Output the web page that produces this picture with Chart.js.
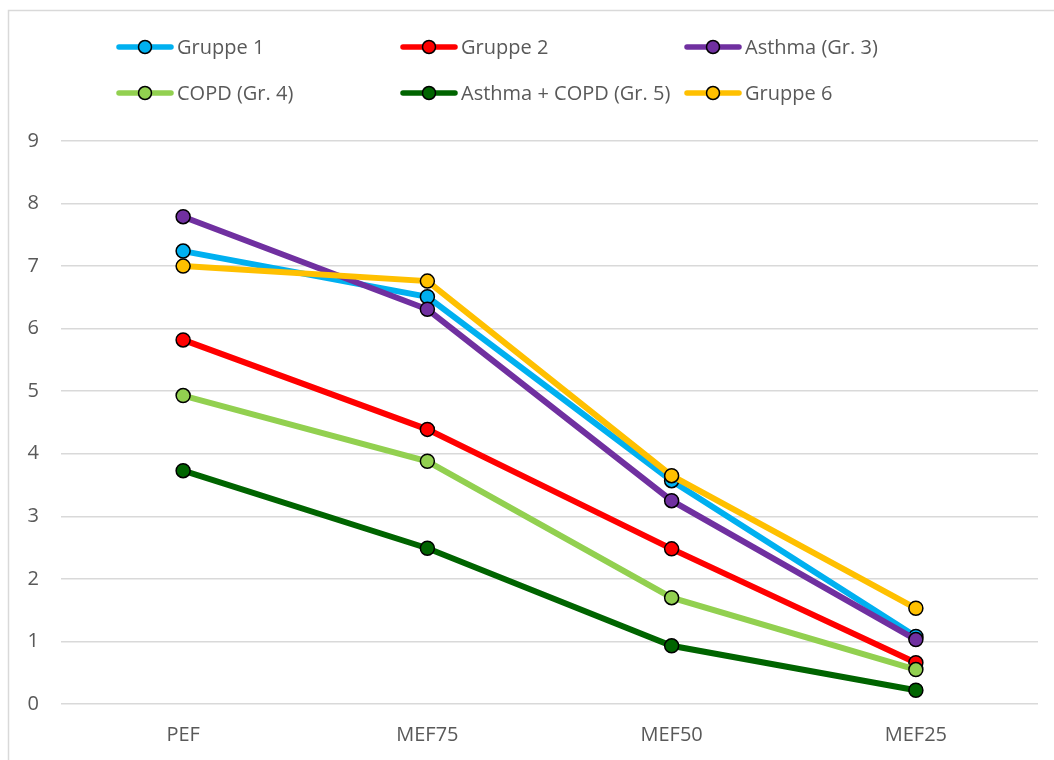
<!DOCTYPE html>
<html>
<head>
<meta charset="utf-8">
<script src="https://cdn.jsdelivr.net/npm/chart.js@4/dist/chart.umd.min.js"></script>
<style>
  html, body { margin: 0; padding: 0; background: #fff; }
  #wrap { width: 1054px; height: 760px; position: relative; }
</style>
</head>
<body>
<div id="wrap"><canvas id="miGrafico" width="1054" height="760"></canvas></div>
<script>
// datos
const categorias = ['PEF', 'MEF75', 'MEF50', 'MEF25'];
const nombres = ['Gruppe 1', 'Gruppe 2', 'Asthma (Gr. 3)', 'COPD (Gr. 4)', 'Asthma + COPD (Gr. 5)', 'Gruppe 6'];
const gruppe1 = [7.24, 6.51, 3.57, 1.08];
const gruppe2 = [5.82, 4.39, 2.48, 0.66];
const asthma = [7.79, 6.31, 3.25, 1.03];
const copd = [4.93, 3.88, 1.70, 0.55];
const asthmaCopd = [3.73, 2.49, 0.93, 0.22];
const gruppe6 = [7.00, 6.76, 3.65, 1.53];
const ticksY = [0, 1, 2, 3, 4, 5, 6, 7, 8, 9];

const colores = ['#00B0F0', '#FF0000', '#7030A0', '#92D050', '#006400', '#FFC000'];
const valores = [gruppe1, gruppe2, asthma, copd, asthmaCopd, gruppe6];
const fuente = "'Open Sans', sans-serif";

// leyenda estilo Excel, columnas fijas
const leyendaExcel = {
    id: 'leyendaExcel',
    afterDraw(chart) {
        const c = chart.ctx;
        c.save();
        chart.data.datasets.forEach((ds, i) => {
            const x = 117 + (i % 3) * 284;
            const y = 47 + Math.floor(i / 3) * 46;
            c.strokeStyle = ds.borderColor;
            c.lineWidth = 5.5;
            c.lineCap = 'round';
            c.beginPath();
            c.moveTo(x + 2, y);
            c.lineTo(x + 54, y);
            c.stroke();
            c.beginPath();
            c.arc(x + 28, y, 6.5, 0, Math.PI * 2);
            c.fillStyle = ds.backgroundColor;
            c.fill();
            c.lineWidth = 1.5;
            c.strokeStyle = '#000';
            c.stroke();
            c.fillStyle = '#595959';
            c.font = '20px ' + fuente;
            c.textBaseline = 'middle';
            c.fillText(ds.label, x + 60, y + 1);
        });
        c.restore();
    }
};

// marco gris del area del grafico
const marco = {
    id: 'marco',
    beforeDraw(chart) {
        const c = chart.ctx;
        c.save();
        c.strokeStyle = '#d9d9d9';
        c.lineWidth = 1.5;
        c.beginPath();
        c.moveTo(8.5, 770);
        c.lineTo(8.5, 10.5);
        c.lineTo(1070, 10.5);
        c.stroke();
        c.restore();
    }
};

const ctx = document.getElementById('miGrafico').getContext('2d');
const grafico = new Chart(ctx, {
    type: 'line',
    data: {
        labels: categorias,
        datasets: valores.map((v, i) => ({
            label: nombres[i],
            data: v,
            borderColor: colores[i],
            backgroundColor: colores[i],
            borderWidth: 6,
            pointRadius: 7,
            pointHoverRadius: 7,
            pointBorderColor: '#000',
            pointBorderWidth: 1.5,
            pointBackgroundColor: colores[i],
            tension: 0,
            order: 6 - i
        }))
    },
    options: {
        responsive: false,
        animation: false,
        layout: { padding: { top: 141, left: 8, right: 16, bottom: 0 } },
        plugins: {
            legend: { display: false },
            tooltip: { enabled: false }
        },
        scales: {
            x: {
                offset: true,
                afterFit: s => { s.height = 56; },
                grid: { display: false },
                border: { display: false },
                ticks: { color: '#595959', font: { family: fuente, size: 20 }, padding: 11 }
            },
            y: {
                min: 0,
                max: 9,
                afterBuildTicks: s => { s.ticks = ticksY.map(v => ({ value: v })); },
                afterFit: s => { s.width = 53; },
                grid: { color: '#d9d9d9', lineWidth: 1.5, drawTicks: false },
                border: { display: false },
                ticks: { color: '#595959', font: { family: fuente, size: 20 }, padding: 22 }
            }
        }
    },
    plugins: [marco, leyendaExcel]
});
</script>
</body>
</html>
